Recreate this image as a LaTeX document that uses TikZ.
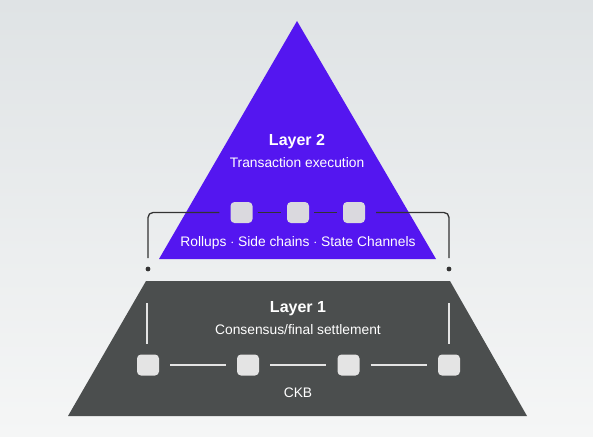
\documentclass[tikz,border=0pt]{standalone}
\usepackage{fontspec}
\setmainfont{Liberation Sans}
\usepackage{tikz}
\usetikzlibrary{positioning}
\definecolor{bgtop}{HTML}{DFE3E5}
\definecolor{bgbot}{HTML}{F5F6F6}
\definecolor{ltwo}{HTML}{5416F0}
\definecolor{lone}{HTML}{4B4E4E}
\definecolor{blockfill}{HTML}{DAD9DE}
\tikzset{block/.style={fill=blockfill, rounded corners=4pt, minimum width=22pt, minimum height=21pt, inner sep=0pt}}
\tikzset{title/.style={text=white, font=\fontsize{16}{18}\selectfont\bfseries}}
\tikzset{sub/.style={text=white, font=\fontsize{13.8}{15}\selectfont}}

\begin{document}
\begin{tikzpicture}[x=1pt,y=-1pt]
\useasboundingbox (0,0) rectangle (593,436);
\shade[top color=bgtop, bottom color=bgbot] (0,0) rectangle (593,436);
% layer 2
\fill[ltwo] (297,21) -- (436,259) -- (159,259) -- cycle;
\draw node[title] (l2) at (297,142) {Layer 2};
\draw node[sub] (l2sub) at (297,163) {Transaction execution};
\node[block] (r1) at (241.5,212.5) {};
\node[block] (r2) at (298,212.5) {};
\node[block] (r3) at (354,212.5) {};
\coordinate (tl) at (148,269);
\coordinate (tr) at (449,269);
\fill[black!80] (tl) circle (2.4pt);
\fill[black!80] (tr) circle (2.4pt);
\draw[black!80, line width=1.3pt, rounded corners=5pt] ([yshift=11pt]tl) |- ([xshift=-11pt]r1.west);
\draw[black!80, line width=1.3pt, rounded corners=5pt] ([yshift=11pt]tr) |- ([xshift=11pt]r3.east);
\draw[black!80, line width=1.3pt] ([xshift=5pt]r1.east) -- ([xshift=-6pt]r2.west);
\draw[black!80, line width=1.3pt] ([xshift=5pt]r2.east) -- ([xshift=-6pt]r3.west);
\draw node[sub] (l2list) at (298,243) {Rollups $\cdot$ Side chains $\cdot$ State Channels};
% layer 1
\fill[lone] (146,281) -- (450,281) -- (527,416) -- (68,416) -- cycle;
\draw node[title] (l1) at (298,309) {Layer 1};
\draw node[sub] (l1sub) at (298,330) {Consensus/final settlement};
\draw[white!85!lone, line width=1.2pt] (147,303) -- (147,344);
\draw[white!85!lone, line width=1.2pt] (449,303) -- (449,344);
\node[block, fill=white!85!lone] (c1) at (148,365) {};
\node[block, fill=white!85!lone] (c2) at (248,365) {};
\node[block, fill=white!85!lone] (c3) at (348.5,365) {};
\node[block, fill=white!85!lone] (c4) at (449,365) {};
\foreach \a/\b in {c1/c2, c2/c3, c3/c4}
  \draw[white!85!lone, line width=1.2pt] ([xshift=11pt]\a.east) -- ([xshift=-11pt]\b.west);
\draw node[sub] (ckb) at (298,393) {CKB};
\end{tikzpicture}
\end{document}
